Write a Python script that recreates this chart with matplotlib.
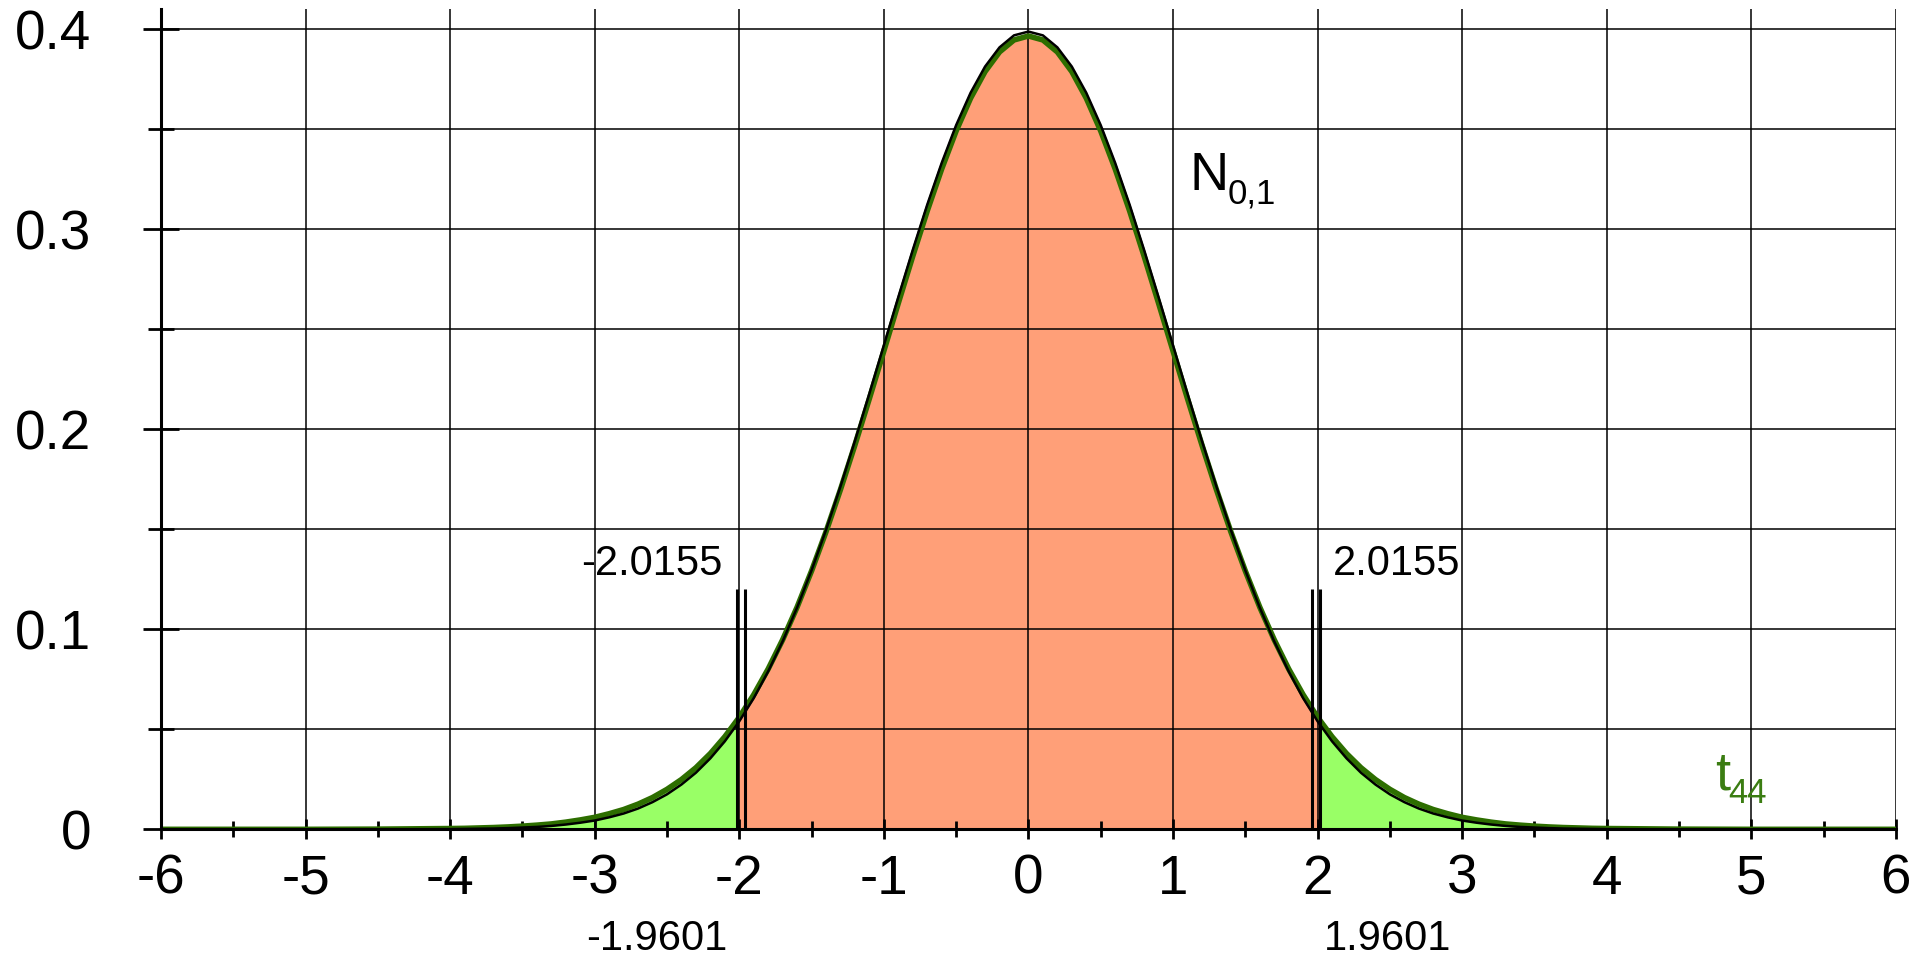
import numpy as np
import matplotlib.pyplot as plt
from matplotlib.patches import Rectangle
from matplotlib.ticker import MultipleLocator, FixedLocator

plt.rcParams['font.family'] = ['Liberation Sans', 'DejaVu Sans']
plt.rcParams['axes.unicode_minus'] = False

# densities for x >= 0 (the curves are symmetric)
x_half = [0.0, 0.1, 0.2, 0.3, 0.4, 0.5, 0.6, 0.7, 0.8, 0.9,
          1.0, 1.1, 1.2, 1.3, 1.4, 1.5, 1.6, 1.7, 1.8, 1.9,
          2.0, 2.1, 2.2, 2.3, 2.4, 2.5, 2.6, 2.7, 2.8, 2.9,
          3.0, 3.1, 3.2, 3.3, 3.4, 3.5, 3.6, 3.7, 3.8, 3.9,
          4.0, 4.5, 5.0, 6.0]
normal_half = [0.3989, 0.3970, 0.3910, 0.3814, 0.3683, 0.3521, 0.3332, 0.3123, 0.2897, 0.2661,
               0.2420, 0.2179, 0.1942, 0.1714, 0.1497, 0.1295, 0.1109, 0.0940, 0.0790, 0.0656,
               0.0540, 0.0440, 0.0355, 0.0283, 0.0224, 0.0175, 0.0136, 0.0104, 0.0079, 0.0060,
               0.0044, 0.0033, 0.0024, 0.0017, 0.0012, 0.0009, 0.0006, 0.0004, 0.0003, 0.0002,
               0.0001, 0.0000, 0.0000, 0.0000]
t44_half = [0.3967, 0.3947, 0.3887, 0.3789, 0.3656, 0.3492, 0.3302, 0.3092, 0.2866, 0.2631,
            0.2392, 0.2154, 0.1922, 0.1699, 0.1488, 0.1292, 0.1111, 0.0948, 0.0802, 0.0673,
            0.0560, 0.0463, 0.0379, 0.0308, 0.0249, 0.0200, 0.0159, 0.0126, 0.0099, 0.0078,
            0.0060, 0.0047, 0.0036, 0.0027, 0.0021, 0.0016, 0.0012, 0.0009, 0.0007, 0.0005,
            0.0004, 0.0001, 0.0000, 0.0000]

crit_t = 2.0155   # t44 quantile
crit_z = 1.9601   # normal quantile

x = np.concatenate([-np.array(x_half[:0:-1]), x_half])
normal = np.concatenate([normal_half[:0:-1], normal_half])
t44 = np.concatenate([t44_half[:0:-1], t44_half])

fig = plt.figure(figsize=(19.25, 9.56), dpi=100)
ax = fig.add_axes([0.0836, 0.1325, 0.9013, 0.8577])

# tails green, middle salmon
ax.fill_between(x, t44, color='#99FF66', lw=0, zorder=1)
mid = ax.fill_between(x, t44, color='#FF9F78', lw=0, zorder=1.1)
mid.set_clip_path(Rectangle((-crit_t, 0), 2 * crit_t, 1, transform=ax.transData))

ax.plot(x, t44, color='#2D6E00', lw=4.0, zorder=3)
ax.plot(x, normal, color='black', lw=1.8, zorder=3.1)

ax.vlines([-crit_t, -crit_z, crit_z, crit_t], 0, 0.12, color='black', lw=2.2, zorder=4)

ax.set_xlim(-6, 6)
ax.set_ylim(0, 0.41)

ax.xaxis.set_major_locator(MultipleLocator(1))
ax.xaxis.set_minor_locator(MultipleLocator(0.5))
y_ticks = [0, 0.1, 0.2, 0.3, 0.4]
y_labels = ['0', '0.1', '0.2', '0.3', '0.4']
ax.yaxis.set_major_locator(FixedLocator(y_ticks))
ax.yaxis.set_minor_locator(MultipleLocator(0.05))
ax.set_yticklabels(y_labels)

ax.tick_params(axis='y', which='major', direction='inout', length=26, width=2, labelsize=39.5, pad=37)
ax.tick_params(axis='y', which='minor', direction='inout', length=19, width=2)
ax.tick_params(axis='x', which='major', direction='inout', length=15, width=2, labelsize=39.5, pad=10)
ax.tick_params(axis='x', which='minor', direction='inout', length=11, width=2)

ax.set_axisbelow(False)
ax.grid(True, which='major', axis='x', color='black', lw=1.1, zorder=2)
ax.grid(True, which='both', axis='y', color='black', lw=1.1, zorder=2)

for s in ['top', 'right']:
    ax.spines[s].set_visible(False)
for s in ['left', 'bottom']:
    ax.spines[s].set_linewidth(2.2)
    ax.spines[s].set_zorder(5)

# critical values
ax.text(-2.608, 0.1272, '-2.0155', fontsize=30, ha='center', va='baseline')
ax.text(2.548, 0.1272, '2.0155', fontsize=30, ha='center', va='baseline')
ax.text(-2.573, -0.0603, '-1.9601', fontsize=30, ha='center', va='baseline', clip_on=False)
ax.text(2.481, -0.0603, '1.9601', fontsize=30, ha='center', va='baseline', clip_on=False)

# curve names
ax.text(1.116, 0.3197, 'N', fontsize=39, ha='left', va='baseline')
ax.annotate('0,1', xy=(1.116, 0.3197), xytext=(27, -9.4), textcoords='offset points',
            fontsize=25, ha='left', va='baseline')
ax.text(4.747, 0.0197, 't', fontsize=39, ha='left', va='baseline', color='#3B7D12')
ax.annotate('44', xy=(4.747, 0.0197), xytext=(10, -9.4), textcoords='offset points',
            fontsize=25, ha='left', va='baseline', color='#3B7D12')

fig.savefig('out.png', dpi=100)
